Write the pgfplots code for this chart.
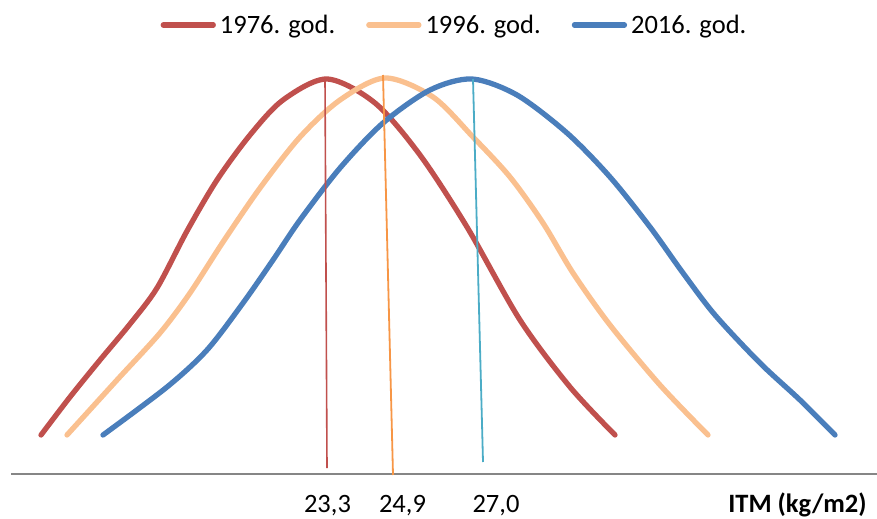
\documentclass[border=0pt]{standalone}
\usepackage{fontspec}
\setmainfont{Carlito}
\usepackage{pgfplots}
\pgfplotsset{compat=1.18}
\definecolor{cred}{HTML}{C0504D}
\definecolor{corange}{HTML}{FAC08F}
\definecolor{cblue}{HTML}{4A7EBB}
\definecolor{lorange}{HTML}{F79646}
\definecolor{lcyan}{HTML}{4BACC6}
\definecolor{axgray}{HTML}{868686}
\begin{document}
\begin{tikzpicture}
\useasboundingbox (0,0) rectangle (877bp,519bp);
\begin{axis}[at={(0,0)}, anchor=south west, scale only axis,
  width=877bp, height=519bp, xmin=0, xmax=877, ymin=0, ymax=519,
  y dir=reverse, hide axis, clip=false,
  legend columns=3,
  legend image code/.code={\draw[#1,line width=5.3bp,line cap=round] (2.6bp,0bp) -- (52.6bp,0bp);},
  legend style={draw=none, fill=none, at={(axis cs:453.5,25)}, anchor=center,
    font=\fontsize{26.5bp}{30bp}\selectfont, inner sep=0pt,
    nodes={inner sep=0pt},
    /tikz/every odd column/.append style={column sep=4bp},
    /tikz/every even column/.append style={column sep=31bp}},
]
% axis line
\addplot[forget plot, axgray, line width=1.5bp] coordinates {(11,474) (877,474)};
% curves
\addplot[cred, line width=5.3bp, line cap=round, smooth] coordinates {
(41,435) (70,397) (100,360) (130,324) (157,288) (187,231) (217,180) (250,135)
(283,100) (327,79) (375,103) (420,155) (467,227) (520,320) (570,387) (615,435)};
\addlegendentry{1976. god.}
\addplot[corange, line width=5.3bp, line cap=round, smooth] coordinates {
(67,435) (117,380) (160,333) (190,293) (223,242) (260,188) (300,137) (340,100)
(385,78) (433,97) (473,137) (510,177) (543,223) (573,273) (610,325) (660,385) (708,435)};
\addlegendentry{1996. god.}
\addplot[cblue, line width=5.3bp, line cap=round, smooth] coordinates {
(103,435) (167,387) (207,350) (243,303) (273,260) (300,220) (340,168) (383,123)
(430,90) (472,79) (517,95) (567,133) (610,177) (650,227) (683,273) (715,315)
(760,363) (800,400) (835,435)};
\addlegendentry{2016. god.}
% mean lines
\addplot[forget plot, cred, line width=1.6bp] coordinates {(325,79) (327,468)};
\addplot[forget plot, lorange, line width=1.8bp] coordinates {(383,75) (393,475)};
\addplot[forget plot, lcyan, line width=1.8bp] coordinates {(473,79) (483,462)};
% labels
\node[font=\fontsize{26.5bp}{30bp}\selectfont, anchor=base, inner sep=0pt] at (axis cs:327.5,512.5) {23,3};
\node[font=\fontsize{26.5bp}{30bp}\selectfont, anchor=base, inner sep=0pt] at (axis cs:402.5,512.5) {24,9};
\node[font=\fontsize{26.5bp}{30bp}\selectfont, anchor=base, inner sep=0pt] at (axis cs:496,512.5) {27,0};
\node[font=\fontsize{26.5bp}{30bp}\selectfont\bfseries, anchor=base, inner sep=0pt] at (axis cs:797.5,512.5) {ITM (kg/m2)};
\end{axis}
\end{tikzpicture}
\end{document}
